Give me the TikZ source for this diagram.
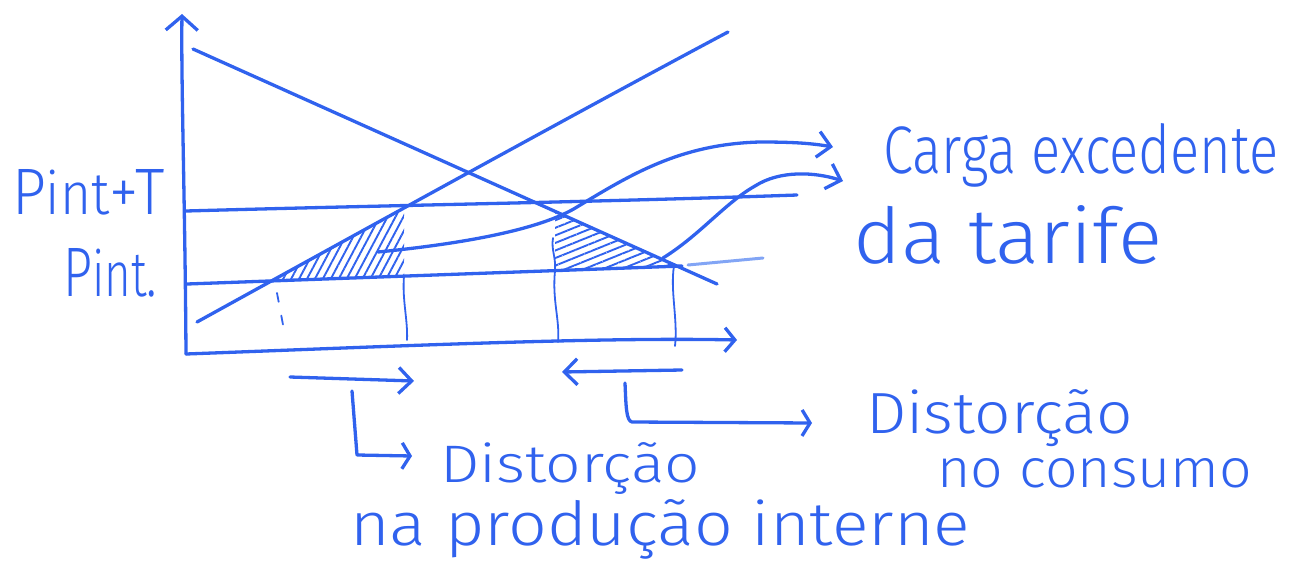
\documentclass[tikz,border=0pt]{standalone}
\usepackage{fontspec}
\setmainfont{Fira Sans}[UprightFont={* Light}]
\usetikzlibrary{arrows.meta,patterns.meta}
\definecolor{ink}{RGB}{48,98,238}
\definecolor{inklight}{RGB}{130,165,245}
\newcommand{\fitlabel}[3]{\resizebox{#1}{#2}{#3}}
\begin{document}
\begin{tikzpicture}[x=1pt,y=-1pt,
  ink/.style={draw=ink,line width=3.3pt,line cap=round,line join=round},
  thinink/.style={draw=ink,line width=1.8pt,line cap=round,line join=round},
  barb/.style={-{Straight Barb[length=13pt,width=26pt]}},
  lbl/.style={inner sep=0pt,anchor=base west,text=ink},
  hatchL/.style={pattern={Lines[angle=62,distance=7pt,line width=1.9pt]},pattern color=ink},
  hatchR/.style={pattern={Lines[angle=22,distance=7pt,line width=1.9pt]},pattern color=ink},
]
\useasboundingbox (0,0) rectangle (1298,573);

% axes
\coordinate (O) at (186,354);
\coordinate (Ytop) at (182,14);
\coordinate (Xend) at (737,340);
\draw[ink,-{Straight Barb[length=14pt,width=32pt]}] (O) .. controls (185,200) and (181,80) .. (Ytop);
\draw[ink,-{Straight Barb[length=10pt,width=24pt]}] (O) .. controls (400,346) and (600,337) .. (Xend);

% demand and supply
\coordinate (D1) at (193,49);
\coordinate (D2) at (717,284);
\coordinate (S1) at (197,322);
\coordinate (S2) at (728,32);
\draw[ink] (D1) -- (D2);
\draw[ink] (S1) .. controls (400,210) and (600,100) .. (S2);

% price lines
\coordinate (PF1) at (186,211);
\coordinate (PF2) at (797,195);
\coordinate (P1) at (187,284);
\coordinate (P2) at (682,266);
\coordinate (P3) at (688,265);
\coordinate (P4) at (763,258);
\draw[ink] (PF1) .. controls (400,205) and (600,202) .. (PF2);
\draw[ink] (P1) -- (P2);
\draw[draw=inklight,line width=3pt,line cap=round] (P3) -- (P4);

% hatched triangles
\coordinate (LA) at (276,280);
\coordinate (LB) at (404,207);
\coordinate (LC) at (404,276);
\coordinate (RA) at (555,211);
\coordinate (RB) at (555,271);
\coordinate (RC) at (674,266);
\fill[hatchL] (LA) -- (LB) -- (LC) -- cycle;
\fill[hatchR] (RA) -- (RB) -- (RC) -- cycle;

% drop lines
\draw[thinink,dash pattern=on 9pt off 14pt] (277,293) -- (284,330);
\draw[thinink] (LC) .. controls (402,300) and (408,320) .. (407,340);
\draw[thinink] (553,238) .. controls (551,250) and (556,256) .. (RB);
\draw[thinink] (RB) .. controls (552,300) and (560,320) .. (558,342);
\draw[thinink] (RC) .. controls (670,290) and (678,320) .. (675,346);

% curves to the tariff label
\coordinate (cA0) at (378,252);
\coordinate (cA1) at (577,207);
\coordinate (cA2) at (760,142);
\coordinate (cA3) at (833,147);
\draw[ink,barb] (cA0) .. controls (460,244) and (540,230) .. (cA1)
  .. controls (630,175) and (680,144) .. (cA2) .. controls (790,142) and (810,143) .. (cA3);
\coordinate (cB0) at (663,258);
\coordinate (cB1) at (755,186);
\coordinate (cB2) at (843,181);
\draw[ink,barb] (cB0) .. controls (700,235) and (725,203) .. (cB1)
  .. controls (780,170) and (815,172) .. (cB2);

% bottom arrows
\coordinate (aR0) at (290,377);
\coordinate (aR1) at (414,381);
\draw[ink,barb] (aR0) -- (aR1);
\coordinate (aL0) at (682,370);
\coordinate (aL1) at (562,372);
\draw[ink,barb] (aL0) -- (aL1);

% labels
\node[lbl] (carga) at (883,173) {\fitlabel{395pt}{50pt}{Carga excedente}};
\node[lbl] (tarifa) at (853,263) {\fitlabel{309pt}{58pt}{da tarife}};
\node[lbl] (pft) at (12,214) {\fitlabel{153pt}{45pt}{P{\small int}+T}};
\node[lbl] (pint) at (63,296) {\fitlabel{94pt}{48pt}{P{\small int}.}};
\node[lbl] (dist2) at (866,433) {\fitlabel{267pt}{44pt}{Distorção}};
\node[lbl] (cons) at (937,487) {\fitlabel{315pt}{29pt}{no consumo}};
\node[lbl] (dist1) at (440,482) {\fitlabel{260pt}{40pt}{Distorção}};
\node[lbl] (prod) at (350,545) {\fitlabel{620pt}{46pt}{na produção interne}};

% brackets from the arrows to the labels
\coordinate (bL0) at (352,391);
\coordinate (bL1) at (357,455);
\coordinate (bL2) at (412,456);
\draw[ink,-{Straight Barb[length=8pt,width=26pt]}] (bL0) -- (bL1) -- (bL2);
\coordinate (bR0) at (625,383);
\coordinate (bR1) at (632,422);
\coordinate (bR2) at (812,423);
\draw[ink,-{Straight Barb[length=8pt,width=26pt]}] (bR0) .. controls (626,405) and (626,421) .. (bR1) -- (bR2);
\end{tikzpicture}
\end{document}
